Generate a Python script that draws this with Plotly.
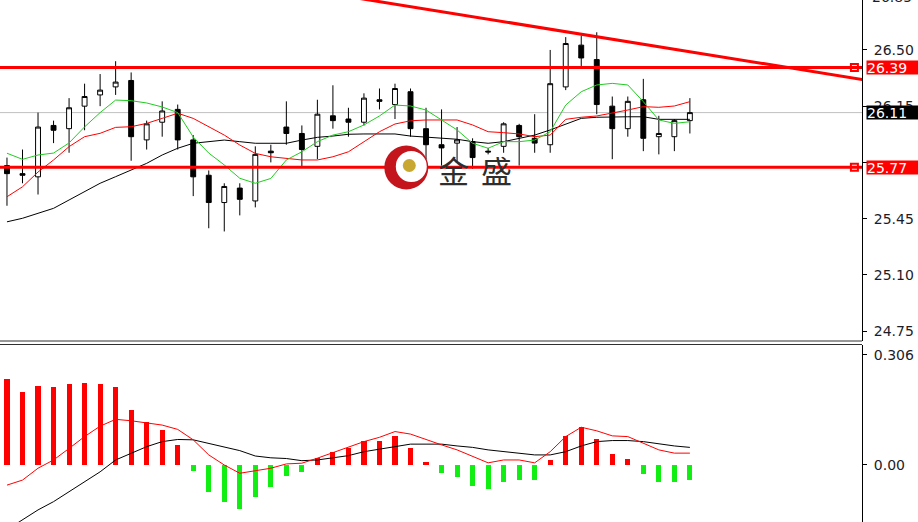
import plotly.graph_objects as go

# ---------------- data ----------------
idx = list(range(45))
opens = [25.78, 25.73, 25.71, 26.03, 26.01, 26.15, 26.22, 26.27, 26.31, 25.94,
         26.05, 26.13, 25.94, 25.72, 25.55, 25.64, 25.56, 25.87, 26.02, 25.98,
         25.90, 26.09, 26.07, 26.05, 26.19, 26.16, 26.24, 26.01, 25.91, 25.92,
         25.93, 25.87, 25.90, 26.03, 25.95, 25.91, 26.27, 26.53, 26.44, 26.15,
         26.01, 26.19, 25.96, 25.96, 26.06]
highs = [25.83, 25.88, 26.11, 26.06, 26.20, 26.29, 26.35, 26.43, 26.36, 26.06,
         26.18, 26.16, 25.97, 25.75, 25.67, 25.67, 25.90, 25.91, 26.18, 26.03,
         26.19, 26.28, 26.14, 26.23, 26.26, 26.29, 26.26, 26.14, 26.13, 26.02,
         25.95, 25.89, 26.05, 26.04, 26.10, 26.50, 26.58, 26.59, 26.61, 26.21,
         26.21, 26.32, 26.09, 26.07, 26.20]
lows = [25.53, 25.67, 25.60, 25.92, 25.86, 26.00, 26.15, 26.22, 25.81, 25.88,
        25.96, 25.88, 25.59, 25.39, 25.37, 25.47, 25.52, 25.80, 25.91, 25.77,
        25.82, 26.01, 25.96, 26.03, 26.13, 26.07, 25.96, 25.82, 25.78, 25.80,
        25.76, 25.85, 25.86, 25.78, 25.86, 25.86, 26.25, 26.39, 26.10, 25.82,
        25.96, 25.87, 25.85, 25.87, 25.98]
closes = [25.73, 25.72, 26.02, 26.00, 26.14, 26.21, 26.25, 26.30, 25.96, 26.04,
          26.12, 25.94, 25.71, 25.55, 25.65, 25.57, 25.85, 25.86, 25.98, 25.88,
          26.10, 26.06, 26.05, 26.20, 26.18, 26.26, 26.01, 25.91, 25.89, 25.94,
          25.83, 25.865, 26.04, 25.96, 25.92, 26.29, 26.54, 26.45, 26.16, 26.01,
          26.18, 25.95, 25.98, 26.06, 26.11]

ma_green = [25.857, 25.819, 25.846, 25.858, 25.921, 26.021, 26.110, 26.188, 26.184, 26.170,
            26.145, 26.110, 25.958, 25.858, 25.784, 25.701, 25.670, 25.700, 25.815, 25.866,
            25.929, 25.970, 25.991, 26.033, 26.089, 26.157, 26.151, 26.126, 26.064, 26.002,
            25.919, 25.888, 25.929, 25.929, 25.939, 25.991, 26.157, 26.240, 26.282, 26.292,
            26.282, 26.178, 26.064, 26.043, 26.053]
ma_red = [25.586, 25.648, 25.740, 25.815, 25.898, 25.960, 25.981, 26.018, 26.022, 26.043,
          26.074, 26.106, 26.074, 26.022, 25.970, 25.908, 25.856, 25.835, 25.825, 25.815,
          25.815, 25.835, 25.866, 25.929, 25.991, 26.039, 26.059, 26.064, 26.064, 26.064,
          26.033, 25.991, 25.985, 25.977, 25.960, 25.970, 26.068, 26.081, 26.089, 26.106,
          26.126, 26.147, 26.143, 26.151, 26.178]
ma_black = [25.430, 25.452, 25.483, 25.514, 25.566, 25.617, 25.670, 25.711, 25.752, 25.794,
            25.846, 25.888, 25.919, 25.929, 25.939, 25.929, 25.919, 25.919, 25.919, 25.939,
            25.956, 25.964, 25.975, 25.977, 25.977, 25.977, 25.964, 25.956, 25.950, 25.944,
            25.929, 25.919, 25.929, 25.950, 25.970, 26.002, 26.039, 26.074, 26.081, 26.084,
            26.084, 26.084, 26.068, 26.068, 26.068]

macd_hist = [0.238, 0.204, 0.221, 0.216, 0.225, 0.229, 0.225, 0.216, 0.153, 0.119,
             0.097, 0.055, -0.016, -0.076, -0.102, -0.122, -0.088, -0.062, -0.030, -0.020,
             0.019, 0.037, 0.048, 0.068, 0.068, 0.081, 0.046, 0.0075, -0.021, -0.033,
             -0.058, -0.067, -0.046, -0.042, -0.042, 0.014, 0.081, 0.105, 0.071, 0.030,
             0.017, -0.025, -0.046, -0.046, -0.042]
macd_red = [-0.056, -0.042, -0.009, 0.014, 0.046, 0.079, 0.108, 0.127, 0.123, 0.116,
            0.111, 0.099, 0.070, 0.028, 0.000, -0.023, -0.017, -0.009, 0.003, 0.005,
            0.019, 0.034, 0.050, 0.065, 0.077, 0.093, 0.086, 0.070, 0.056, 0.042,
            0.023, 0.006, 0.014, 0.014, 0.006, 0.037, 0.079, 0.105, 0.095, 0.081,
            0.079, 0.060, 0.042, 0.033, 0.033]
macd_black = [-0.180, -0.153, -0.125, -0.102, -0.074, -0.046, -0.019, 0.014, 0.033, 0.051,
              0.065, 0.071, 0.070, 0.060, 0.051, 0.040, 0.025, 0.020, 0.018, 0.012,
              0.014, 0.021, 0.026, 0.037, 0.044, 0.053, 0.058, 0.058, 0.058, 0.053,
              0.049, 0.042, 0.037, 0.033, 0.028, 0.028, 0.037, 0.053, 0.065, 0.068,
              0.068, 0.065, 0.058, 0.053, 0.049]

level_hi = 26.39
level_lo = 25.77
last_price = 26.11
trend_x = [20, 56]
trend_y = [26.863, 26.302]
level_marker_x = 54.6
price_ticks = [24.75, 25.10, 25.45, 25.80, 26.15, 26.50]
hidden_ticks = [25.80]
price_top_tick = 26.85
macd_ticks = [0.306, 0.0]
macd_ticktext = ["0.306", "0.00"]
logo_text = ["金", "盛"]

# ---------------- figure ----------------
W, H = 918, 522
PLOT_W = 862
RED = "#ff0000"
TXT = "#1c1c28"
FS = 14

fig = go.Figure()

fig.add_trace(go.Candlestick(
    x=idx, open=opens, high=highs, low=lows, close=closes,
    increasing=dict(line=dict(color="black", width=1), fillcolor="white"),
    decreasing=dict(line=dict(color="black", width=1), fillcolor="black"),
    whiskerwidth=0, showlegend=False, hoverinfo="skip",
    xaxis="x", yaxis="y"))

fig.add_trace(go.Scatter(x=idx, y=ma_black, mode="lines",
                         line=dict(color="black", width=1), showlegend=False,
                         hoverinfo="skip", xaxis="x", yaxis="y"))
fig.add_trace(go.Scatter(x=idx, y=ma_red, mode="lines",
                         line=dict(color=RED, width=1), showlegend=False,
                         hoverinfo="skip", xaxis="x", yaxis="y"))
fig.add_trace(go.Scatter(x=idx, y=ma_green, mode="lines",
                         line=dict(color="#22cc22", width=1), showlegend=False,
                         hoverinfo="skip", xaxis="x", yaxis="y"))

# trend line
fig.add_trace(go.Scatter(x=trend_x, y=trend_y, mode="lines",
                         line=dict(color=RED, width=3), showlegend=False,
                         hoverinfo="skip", xaxis="x", yaxis="y"))

# level markers
fig.add_trace(go.Scatter(x=[level_marker_x, level_marker_x], y=[level_hi, level_lo],
                         mode="markers",
                         marker=dict(symbol="square", size=7, color="white",
                                     line=dict(color=RED, width=2)),
                         showlegend=False, hoverinfo="skip", xaxis="x", yaxis="y"))

# MACD panel
fig.add_trace(go.Bar(x=idx, y=macd_hist, width=0.33,
                     marker=dict(color=[RED if v >= 0 else "#11ee11" for v in macd_hist],
                                 line=dict(width=0)),
                     showlegend=False, hoverinfo="skip", xaxis="x2", yaxis="y2"))
fig.add_trace(go.Scatter(x=idx, y=macd_black, mode="lines",
                         line=dict(color="black", width=1), showlegend=False,
                         hoverinfo="skip", xaxis="x2", yaxis="y2"))
fig.add_trace(go.Scatter(x=idx, y=macd_red, mode="lines",
                         line=dict(color=RED, width=1), showlegend=False,
                         hoverinfo="skip", xaxis="x2", yaxis="y2"))

xr = [-0.45, 55.09]
main_dom = [1 - 341 / H, 1]
macd_dom = [0, 1 - 345 / H]

axis_common = dict(showgrid=False, zeroline=False, showticklabels=False, ticks="",
                   range=xr, fixedrange=True, automargin=False)
fig.update_layout(
    width=W, height=H,
    margin=dict(l=0, r=W - PLOT_W, t=0, b=0, pad=0),
    paper_bgcolor="white", plot_bgcolor="white",
    font=dict(family="DejaVu Sans", size=FS, color=TXT),
    xaxis=dict(domain=[0, 1], anchor="y", rangeslider=dict(visible=False), **axis_common),
    xaxis2=dict(domain=[0, 1], anchor="y2", **axis_common),
    yaxis=dict(domain=main_dom, anchor="x", side="right", range=[24.688, 26.811],
               tickvals=price_ticks,
               ticktext=["" if v in hidden_ticks else f"{v:.2f}" for v in price_ticks],
               ticks="outside", ticklen=4, tickcolor="black", ticklabelstandoff=4,
               showline=True, linecolor="black", linewidth=1, automargin=False,
               showgrid=False, zeroline=False, fixedrange=True),
    yaxis2=dict(domain=macd_dom, anchor="x2", side="right", range=[-0.1586, 0.3338],
                tickvals=macd_ticks, ticktext=macd_ticktext,
                ticks="outside", ticklen=4, tickcolor="black", ticklabelstandoff=4,
                showline=True, linecolor="black", linewidth=1, automargin=False,
                showgrid=False, zeroline=False, fixedrange=True),
    bargap=0,
    boxgap=0.55,
)

shapes = []
# current price grey line
shapes.append(dict(type="line", xref="x", yref="y", x0=xr[0], x1=xr[1],
                   y0=last_price, y1=last_price, line=dict(color="#c0c0c0", width=1),
                   layer="below"))
# horizontal levels
for lv in (level_hi, level_lo):
    shapes.append(dict(type="line", xref="x", yref="y", x0=xr[0], x1=xr[1],
                       y0=lv, y1=lv, line=dict(color=RED, width=3), layer="above"))
# panel separators
for yy in (341, 344.5):
    shapes.append(dict(type="line", xref="paper", yref="paper", x0=0, x1=1,
                       y0=1 - yy / H, y1=1 - yy / H, line=dict(color="#303030", width=1)))

# logo
lx, ly = 406.3 / PLOT_W, 1 - 167.5 / H
def circ(cx, cy, r, fill, line=None):
    return dict(type="circle", xref="paper", yref="paper", xsizemode="pixel",
                ysizemode="pixel", xanchor=lx, yanchor=ly,
                x0=cx - r, x1=cx + r, y0=cy - r, y1=cy + r,
                fillcolor=fill, line=line or dict(width=0), layer="above")
shapes.append(circ(0, 0, 22, "#c4141c"))
shapes.append(circ(5, 1, 15.5, "white"))
shapes.append(dict(type="path", xref="paper", yref="paper", xsizemode="pixel",
                   ysizemode="pixel", xanchor=lx, yanchor=ly,
                   path="M 0,15 A 14 14 0 0 1 18,5",
                   line=dict(color="#d4aa3c", width=3.5), layer="above"))
shapes.append(dict(type="path", xref="paper", yref="paper", xsizemode="pixel",
                   ysizemode="pixel", xanchor=lx, yanchor=ly,
                   path="M 19,-3 A 14 14 0 0 1 9,-13",
                   line=dict(color="#d4aa3c", width=3.5), layer="above"))
shapes.append(circ(3, 2, 6.5, "#c9a832"))
fig.update_layout(shapes=shapes)

ann = []
for ch, cx in zip(logo_text, (454, 497)):
    ann.append(dict(xref="paper", yref="paper", x=cx / PLOT_W, y=1 - 169 / H,
                    xanchor="center", yanchor="middle",
                    text=ch, showarrow=False,
                    font=dict(family="Noto Sans CJK SC", size=31, color="#2e2e2e")))
# partially visible top tick (above the visible range)
ann.append(dict(xref="paper", yref="paper", x=1, xshift=8, y=1 + 3 / H,
                xanchor="left", yanchor="middle", text=f"{price_top_tick:.2f}",
                showarrow=False, font=dict(size=FS, color=TXT)))
# price labels
for val, bg in ((level_hi, RED), (last_price, "black"), (level_lo, RED)):
    ann.append(dict(xref="paper", yref="y", x=1, xshift=4, y=val, xanchor="left",
                    yanchor="middle", text=f"{val:.2f}", showarrow=False,
                    bgcolor=bg, borderpad=0, width=52, height=13, align="left",
                    font=dict(size=FS, color="white")))
fig.update_layout(annotations=ann)

fig.write_html("out.html",
               config={"displayModeBar": False},
               post_script="document.body.style.margin='0';"
                           "document.body.style.overflow='hidden';")
